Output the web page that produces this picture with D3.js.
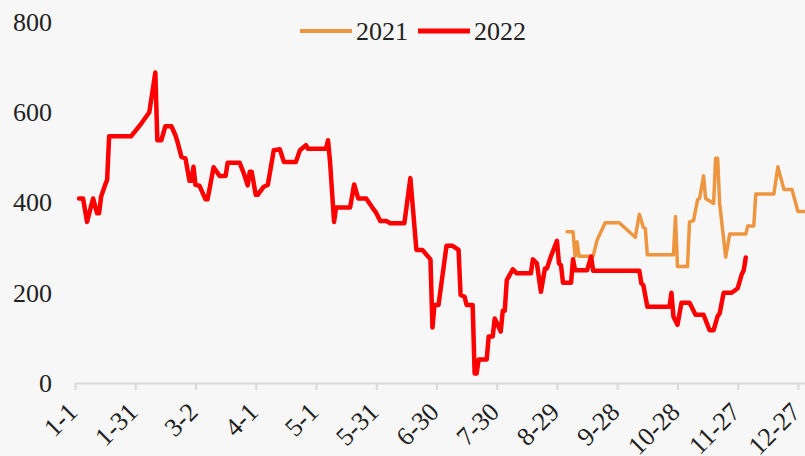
<!DOCTYPE html>
<meta charset="utf-8">
<style>
  html, body { margin: 0; padding: 0; background: #f7f7f7; }
  svg { display: block; }
  .axis text, .legend text { font-family: "Liberation Serif", "Times New Roman", serif; font-size: 26px; fill: #222; }
</style>
<body>
<script src="https://d3js.org/d3.v7.min.js"></script>
<script>
// ===== data =====
const tickLabels = ['1-1', '1-31', '3-2', '4-1', '5-1', '5-31', '6-30', '7-30', '8-29', '9-28', '10-28', '11-27', '12-27'];
const yTicks = [0, 200, 400, 600, 800];

const dates2022 = ['1-3', '1-5', '1-7', '1-10', '1-12', '1-13', '1-14', '1-16', '1-17', '1-18',
  '1-29', '2-3', '2-7', '2-10', '2-11', '2-13', '2-15', '2-18', '2-20', '2-21',
  '2-23', '2-25', '2-27', '2-28', '3-1', '3-2', '3-4', '3-7', '3-8', '3-11',
  '3-14', '3-17', '3-18', '3-24', '3-26', '3-28', '3-29', '3-30', '4-1', '4-2',
  '4-5', '4-7', '4-10', '4-13', '4-15', '4-21', '4-23', '4-26', '4-27', '5-6',
  '5-7', '5-8', '5-10', '5-11', '5-18', '5-20', '5-22', '5-26', '5-30', '5-31',
  '6-2', '6-5', '6-7', '6-14', '6-17', '6-20', '6-23', '6-27', '6-28', '6-29',
  '7-1', '7-5', '7-8', '7-11', '7-12', '7-14', '7-15', '7-18', '7-19', '7-20',
  '7-21', '7-25', '7-26', '7-28', '7-29', '8-1', '8-2', '8-3', '8-4', '8-7',
  '8-9', '8-16', '8-17', '8-19', '8-21', '8-23', '8-24', '8-26', '8-29', '8-30',
  '8-31', '9-1', '9-5', '9-6', '9-7', '9-13', '9-15', '9-16', '10-9', '10-10',
  '10-11', '10-13', '10-24', '10-25', '10-26', '10-28', '10-30', '11-3', '11-6', '11-10',
  '11-13', '11-15', '11-17', '11-18', '11-20', '11-24', '11-27', '11-29', '11-30', '12-1'];
const values2022 = [409, 409, 357, 409, 376, 376, 413, 439, 450, 547,
  547, 575, 600, 688, 538, 538, 569, 569, 549, 535,
  501, 498, 448, 448, 479, 439, 437, 407, 407, 478,
  459, 459, 488, 488, 465, 438, 468, 468, 417, 417,
  435, 439, 516, 518, 490, 490, 516, 527, 519, 519,
  538, 490, 357, 389, 389, 440, 409, 409, 383, 377,
  359, 359, 354, 354, 454, 295, 295, 274, 123, 173,
  173, 304, 304, 295, 195, 191, 173, 173, 21, 21,
  52, 52, 103, 103, 143, 114, 160, 160, 228, 252,
  243, 243, 274, 265, 202, 254, 254, 281, 315, 265,
  261, 222, 222, 274, 250, 250, 280, 249, 249, 221,
  217, 169, 169, 200, 147, 129, 178, 178, 151, 151,
  117, 117, 148, 154, 200, 200, 210, 241, 250, 278];

const dates2021 = ['9-3', '9-6', '9-7', '9-8', '9-9', '9-16', '9-18', '9-22', '9-29', '10-7',
  '10-9', '10-11', '10-12', '10-13', '10-26', '10-27', '10-28', '11-2', '11-3', '11-5',
  '11-7', '11-8', '11-10', '11-11', '11-15', '11-16', '11-17', '11-18', '11-21', '11-23',
  '12-1', '12-2', '12-5', '12-6', '12-15', '12-17', '12-20', '12-24', '12-27', '12-31'];
const values2021 = [335, 335, 281, 313, 281, 281, 317, 355, 355, 323,
  374, 345, 342, 284, 284, 369, 258, 258, 357, 360,
  406, 409, 459, 409, 398, 498, 498, 398, 279, 330,
  330, 348, 348, 419, 419, 479, 429, 429, 380, 380];

const seriesNames = ['2021', '2022'];
const colors = ['#ee9540', '#ff0000'];

// ===== layout =====
const width = 805, height = 456;
// both years drawn on one month-day axis (2022 calendar)
const parseMD = d3.timeParse('%Y-%m-%d');
const md = s => { const [m, d] = s.split('-'); return parseMD(`2022-${m}-${d}`); };

const x = d3.scaleTime()
  .domain([md('1-1'), md('12-31')])
  .range([75, 806]);
const y = d3.scaleLinear()
  .domain([0, 800])
  .range([383, 22]);

const svg = d3.select('body').append('svg')
  .attr('width', width)
  .attr('height', height);

svg.append('rect').attr('width', width).attr('height', height).attr('fill', '#f7f7f7');

// x axis
const xAxis = svg.append('g')
  .attr('class', 'axis')
  .attr('transform', `translate(0,${y(0)})`)
  .call(d3.axisBottom(x)
    .tickValues(tickLabels.map(md))
    .tickSize(7)
    .tickSizeOuter(0)
    .tickFormat((d, i) => tickLabels[i]));
xAxis.select('.domain').attr('stroke', '#d9d9d9').attr('stroke-width', 2);
xAxis.selectAll('.tick line').attr('stroke', '#d9d9d9').attr('stroke-width', 2);
xAxis.selectAll('.tick text')
  .attr('x', null).attr('y', null).attr('dy', '0.35em')
  .attr('text-anchor', 'end')
  .attr('transform', 'translate(-3,24) rotate(-45)');

// y axis (labels only)
const yAxis = svg.append('g')
  .attr('class', 'axis')
  .attr('transform', 'translate(60,0)')
  .call(d3.axisLeft(y).tickValues(yTicks).tickSize(0).tickPadding(8));
yAxis.select('.domain').remove();

// lines
const line = d3.line()
  .x(d => x(d.date))
  .y(d => y(d.value));

const series = [
  { name: '2021', color: colors[0], width: 3.5, data: dates2021.map((d, i) => ({ date: md(d), value: values2021[i] })) },
  { name: '2022', color: colors[1], width: 4.5, data: dates2022.map((d, i) => ({ date: md(d), value: values2022[i] })) }
];

svg.selectAll('.series')
  .data(series)
  .enter()
  .append('path')
    .attr('class', 'series')
    .attr('fill', 'none')
    .attr('stroke', d => d.color)
    .attr('stroke-width', d => d.width)
    .attr('stroke-linejoin', 'round')
    .attr('stroke-linecap', 'round')
    .attr('d', d => line(d.data));

// legend
const legend = svg.append('g').attr('class', 'legend');
const legendX = [300, 418];
seriesNames.forEach((name, i) => {
  const g = legend.append('g').attr('transform', `translate(${legendX[i]},31)`);
  g.append('line')
    .attr('x1', 0).attr('x2', 52)
    .attr('stroke', colors[i])
    .attr('stroke-width', i === 1 ? 5 : 4);
  g.append('text')
    .attr('x', 56).attr('dy', '0.35em')
    .text(name);
});
</script>
